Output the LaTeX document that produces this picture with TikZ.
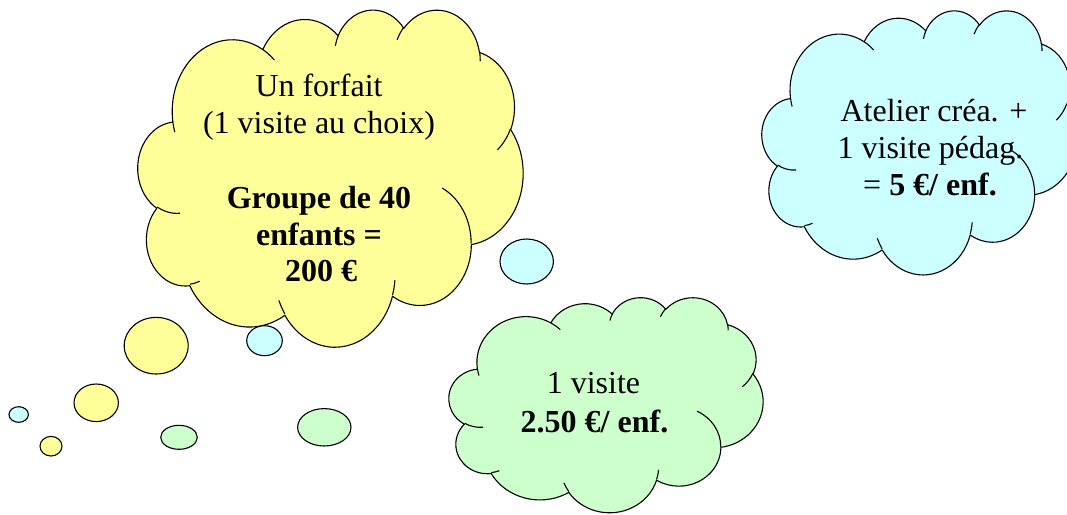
\documentclass[tikz,border=0pt]{standalone}
\usepackage{fontspec}
\setmainfont{Liberation Serif}
\usetikzlibrary{shapes.geometric}
\definecolor{cyel}{HTML}{FFFF99}
\definecolor{ccya}{HTML}{CCFFFF}
\definecolor{cgrn}{HTML}{CCFFCC}
% OOXML arcTo: wR hR stAng swAng (visual angles, degrees)
\newcommand\OA[4]{arc[start angle={atan2(#1*sin(#3),#2*cos(#3))}, delta angle={mod(atan2(#1*sin(#3+#4),#2*cos(#3+#4))-atan2(#1*sin(#3),#2*cos(#3))+720,360)}, x radius=#1pt, y radius=#2pt]}
\newcommand\cloudouter{(39,143.7)
 \OA{67.53}{91.90}{-190.4875}{123.7805}
 \OA{53.33}{72.67}{-144.1024}{89.9452}
 \OA{43.65}{59.45}{-145.8079}{99.7230}
 \OA{48.57}{65.95}{-130.9861}{117.2417}
 \OA{53.33}{72.73}{-78.7089}{109.0269}
 \OA{67.75}{92.20}{-46.2673}{130.2690}
 \OA{57.85}{78.67}{0.6250}{114.0333}
 \OA{67.52}{92.15}{22.4516}{115.1726}
 \OA{77.20}{105.43}{66.2426}{75.7110}
 \OA{43.60}{59.18}{-274.9421}{146.7356}
 \OA{43.45}{59.45}{-246.8285}{152.5189} -- cycle}
\newcommand\cloudinner{
 (46.93,261.77) \OA{43.45}{59.45}{86.7420}{26.4295}
 (69.28,348.99) \OA{43.60}{59.18}{73.6105}{11.4475}
 (164.78,390.90) \OA{67.52}{92.15}{137.6242}{14.0811}
 (288.27,347.51) \OA{67.52}{92.15}{6.4533}{15.9984}
 (341.29,229.54) \OA{57.85}{78.67}{-70.2924}{70.9174}
 (417.98,153.54) \OA{53.33}{72.73}{30.3180}{27.7515}
 (383.24,54.26) \OA{48.57}{65.95}{-13.7443}{14.8589}
 (290.78,39.52) \OA{48.57}{65.95}{-149.1815}{18.1954}
 (221.41,47.20) \OA{43.65}{59.45}{-163.4943}{17.6864}
 (140.00,51.92) \OA{67.53}{91.90}{-66.7070}{12.3194}
 (41.27,157.89) \OA{67.53}{91.90}{157.6544}{11.8582}}
\tikzset{
 outline/.style={draw=black, line width=1.1pt, line join=round},
 bubble/.style={ellipse, draw=black, line width=1.1pt, inner sep=0pt},
 txt/.style={anchor=base, inner sep=0pt, font=\fontsize{32}{36.7}\selectfont},
 btxt/.style={txt, font=\fontsize{32}{36.7}\selectfont\bfseries}
}
\begin{document}
\begin{tikzpicture}[x=1pt, y=1pt, yscale=-1]
\useasboundingbox (0,0) rectangle (1067,514);
\clip (0,0) rectangle (1067,514);
% yellow cloud
\begin{scope}[shift={(138,9)}, xscale=0.8912, yscale=0.7801]
 \draw[outline, fill=cyel] \cloudouter;
 \draw[outline] \cloudinner;
\end{scope}
% cyan cloud
\begin{scope}[shift={(762,10)}, xscale=0.7292, yscale=0.6111]
 \draw[outline, fill=ccya] \cloudouter;
 \draw[outline] \cloudinner;
\end{scope}
% green cloud
\begin{scope}[shift={(449,297)}, xscale=0.7269, yscale=0.4977]
 \draw[outline, fill=cgrn] \cloudouter;
 \draw[outline] \cloudinner;
\end{scope}
% bubbles
\node[bubble, fill=cyel, minimum width=64pt, minimum height=56.6pt] (yb1) at (156.2,345.7) {};
\node[bubble, fill=cyel, minimum width=44.4pt, minimum height=37.6pt] (yb2) at (96.2,402.8) {};
\node[bubble, fill=cyel, minimum width=22pt, minimum height=19.6pt] (yb3) at (51,446.2) {};
\node[bubble, fill=ccya, minimum width=53.4pt, minimum height=45pt] (cb1) at (526.7,261.5) {};
\node[bubble, fill=ccya, minimum width=35.6pt, minimum height=30pt] (cb2) at (264.5,340.7) {};
\node[bubble, fill=ccya, minimum width=19.4pt, minimum height=15.6pt] (cb3) at (18.7,414.5) {};
\node[bubble, fill=cgrn, minimum width=53.4pt, minimum height=37.4pt] (gb1) at (324.3,427.3) {};
\node[bubble, fill=cgrn, minimum width=36.6pt, minimum height=24pt] (gb2) at (179,437.3) {};
% texts
\node[txt] (y1) at (319,96.7) {Un forfait};
\node[txt] (y2) at (319,133.3) {(1 visite au choix)};
\node[btxt] (y3) at (319,208.3) {Groupe de 40};
\node[btxt] (y4) at (319,245) {enfants =};
\node[btxt] (y5) at (321,281.7) {200 €};
\node[txt] (c1) at (934,121.7) {Atelier créa. +};
\node[txt] (c2) at (930.5,158.3) {1 visite pédag.};
\node[txt] (c3) at (930,195) {= \textbf{5 €/ enf.}};
\node[txt] (g1) at (593.5,393.3) {1 visite};
\node[btxt] (g2) at (594.5,432) {2.50 €/ enf.};
\end{tikzpicture}
\end{document}
